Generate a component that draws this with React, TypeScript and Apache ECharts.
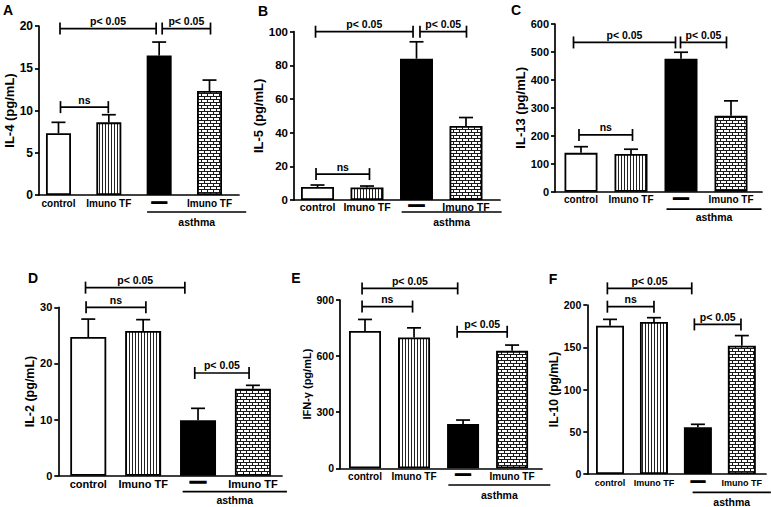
import React, { useEffect, useRef } from 'react';
import * as echarts from 'echarts';

// ---------- data ----------
const categories = ['control', 'Imuno TF', '—', 'Imuno TF'];
const groupLabel = 'asthma';
const panelLetters = ['A', 'B', 'C', 'D', 'E', 'F'];
const yTitles = ['IL-4 (pg/mL)', 'IL-5 (pg/mL)', 'IL-13 (pg/mL)', 'IL-2 (pg/mL)', 'IFN-γ (pg/mL)', 'IL-10 (pg/mL)'];
const yMaxes = [20, 100, 600, 30, 900, 200];
const yIntervals = [5, 20, 100, 10, 300, 50];

const meanIL4 = [7.3, 8.6, 16.5, 12.3];
const semIL4 = [1.3, 0.9, 1.6, 1.3];
const meanIL5 = [7.7, 7.5, 84, 44];
const semIL5 = [1.2, 0.8, 10, 5];
const meanIL13 = [139, 135, 476, 272];
const semIL13 = [22, 17, 23, 53];
const meanIL2 = [24.7, 25.8, 9.9, 15.5];
const semIL2 = [3.2, 2.0, 2.1, 0.6];
const meanIFNg = [734, 700, 237, 628];
const semIFNg = [62, 51, 21, 31];
const meanIL10 = [175.5, 180, 55.3, 151.8];
const semIL10 = [7.5, 5, 3.5, 12];

// significance brackets: [from category pos, to category pos, height (y units), text]
const bracketsIL4: [number, number, number, string][] = [
  [1.03, 2.94, 19.7, 'p< 0.05'], [3.06, 4.02, 19.7, 'p< 0.05'], [1.04, 1.99, 10.4, 'ns'],
];
const bracketsIL5: [number, number, number, string][] = [
  [0.96, 2.93, 100, 'p< 0.05'], [3.07, 4.01, 100, 'p< 0.05'], [0.97, 2.05, 15.4, 'ns'],
];
const bracketsIL13: [number, number, number, string][] = [
  [0.85, 2.89, 534, 'p< 0.05'], [2.99, 3.91, 534, 'p< 0.05'], [0.96, 2.03, 203, 'ns'],
];
const bracketsIL2: [number, number, number, string][] = [
  [0.95, 2.76, 33.5, 'p< 0.05'], [0.96, 2.05, 30.0, 'ns'], [2.94, 3.93, 18.3, 'p< 0.05'],
];
const bracketsIFNg: [number, number, number, string][] = [
  [0.94, 2.89, 962, 'p< 0.05'], [0.94, 1.97, 865, 'ns'], [2.88, 3.9, 730, 'p< 0.05'],
];
const bracketsIL10: [number, number, number, string][] = [
  [0.94, 2.86, 219.7, 'p< 0.05'], [0.94, 2.0, 198, 'ns'], [2.92, 3.98, 177, 'p< 0.05'],
];

// span of the "asthma" group underline, in category positions
const asthmaSpans = [[2.76, 4.73], [2.7, 4.72], [2.71, 4.61], [2.72, 4.62], [2.7, 4.78], [2.88, 4.66]];

const means = [meanIL4, meanIL5, meanIL13, meanIL2, meanIFNg, meanIL10];
const sems = [semIL4, semIL5, semIL13, semIL2, semIFNg, semIL10];
const brackets = [bracketsIL4, bracketsIL5, bracketsIL13, bracketsIL2, bracketsIFNg, bracketsIL10];

// ---------- layout ----------
const layouts = [
  { left: 39, right: 239, top: 26, y0: 195, xMin: 0.613, xMax: 4.586, barW: 25, nameGap: 22, tickF: 12, labF: 10, titleF: 13, labM: 2.5, lineOff: 17, textOff: 27, letter: [8, 10] },
  { left: 294, right: 500, top: 31.7, y0: 200, xMin: 0.525, xMax: 4.687, barW: 33, nameGap: 22.5, tickF: 11.5, labF: 10.5, titleF: 13, labM: 1, lineOff: 12, textOff: 21.7, letter: [263, 11] },
  { left: 555, right: 762, top: 24, y0: 191.7, xMin: 0.48, xMax: 4.62, barW: 33, nameGap: 27, tickF: 11, labF: 10, titleF: 13, labM: 2, lineOff: 17.5, textOff: 25, letter: [516, 10] },
  { left: 58.3, right: 282, top: 307.3, y0: 475.7, xMin: 0.454, xMax: 4.53, barW: 36, nameGap: 20, tickF: 11, labF: 11, titleF: 12.5, labM: 2, lineOff: 16, textOff: 24.5, letter: [33, 278] },
  { left: 340, right: 542, top: 300, y0: 468.3, xMin: 0.49, xMax: 4.61, barW: 32, nameGap: 23, tickF: 10.5, labF: 10, titleF: 11, labM: 2, lineOff: 16.7, textOff: 26.7, letter: [296, 278] },
  { left: 587.3, right: 766, top: 305, y0: 474, xMin: 0.483, xMax: 4.55, barW: 28, nameGap: 21, tickF: 10.5, labF: 9, titleF: 12, labM: 3.5, lineOff: 18.3, textOff: 28.3, letter: [553, 279] },
];

const FONT = "'Liberation Sans', Arial, Helvetica, sans-serif";
const CAP_W = 14;
const LW = 1.7;

function makeStripes(): HTMLCanvasElement {
  const c = document.createElement('canvas');
  c.width = 3; c.height = 4;
  const g = c.getContext('2d')!;
  g.fillStyle = '#fff'; g.fillRect(0, 0, 3, 4);
  g.fillStyle = '#222'; g.fillRect(0, 0, 1, 4);
  return c;
}

function makeBricks(): HTMLCanvasElement {
  const c = document.createElement('canvas');
  c.width = 12; c.height = 6;
  const g = c.getContext('2d')!;
  g.fillStyle = '#fff'; g.fillRect(0, 0, 12, 6);
  g.fillStyle = '#1a1a1a';
  g.fillRect(0, 0, 12, 1);
  g.fillRect(0, 3, 12, 1);
  g.fillRect(0, 1, 1, 2); g.fillRect(6, 1, 1, 2);
  g.fillRect(3, 4, 1, 2); g.fillRect(9, 4, 1, 2);
  return c;
}

export default function App() {
  const ref = useRef<HTMLDivElement>(null);
  useEffect(() => {
    document.body.style.margin = '0';
    if (!ref.current) return;
    const chart = echarts.init(ref.current, undefined, { renderer: 'svg' });
    const stripes = { image: makeStripes(), repeat: 'repeat' };
    const bricks = { image: makeBricks(), repeat: 'repeat' };
    const fills: any[] = ['#ffffff', stripes, '#000000', bricks];

    const grid = layouts.map((l) => ({
      left: l.left, top: l.top, width: l.right - l.left, height: l.y0 - l.top,
      containLabel: false, outerBoundsMode: 'none',
    }));

    const xAxis = layouts.map((l, i) => ({
      type: 'value', gridIndex: i, min: l.xMin, max: l.xMax,
      splitLine: { show: false }, axisTick: { show: false },
      axisLine: { onZero: false, lineStyle: { color: '#000', width: LW } },
      axisLabel: {
        customValues: [1, 2, 3, 4],
        margin: l.labM,
        color: '#000', fontWeight: 'bold', fontSize: l.labF, fontFamily: FONT,
        lineHeight: l.labF + 2,
        formatter: (v: number) => {
          const k = Math.round(v) - 1;
          return k === 2 ? '{d|' + categories[k] + '}' : categories[k];
        },
        rich: {
          d: {
            fontSize: l.labF + 5, fontWeight: 'bold', color: '#000', fontFamily: FONT,
            lineHeight: l.labF + 2, textBorderColor: '#000', textBorderWidth: 1.3,
            padding: [0, 0, 5, 0],
          },
        },
      },
    }));

    const yAxis = layouts.map((l, i) => ({
      type: 'value', gridIndex: i, min: 0, max: yMaxes[i], interval: yIntervals[i],
      splitLine: { show: false },
      axisLine: { show: true, onZero: false, lineStyle: { color: '#000', width: LW } },
      axisTick: { show: true, length: 4, inside: false, lineStyle: { color: '#000', width: LW } },
      axisLabel: { margin: 6, color: '#000', fontWeight: 'bold', fontSize: l.tickF, fontFamily: FONT },
      name: yTitles[i], nameLocation: 'middle', nameGap: l.nameGap, nameRotate: 90,
      nameTextStyle: { color: '#000', fontWeight: 'bold', fontSize: l.titleF, fontFamily: FONT },
    }));

    const series: any[] = [];
    layouts.forEach((l, p) => {
      series.push({
        type: 'bar', xAxisIndex: p, yAxisIndex: p, barWidth: l.barW, z: 2,
        data: means[p].map((v, k) => ({
          value: [k + 1, v],
          itemStyle: { color: fills[k], borderColor: '#000', borderWidth: 1.8 },
        })),
      });
      series.push({
        type: 'custom', xAxisIndex: p, yAxisIndex: p, z: 3,
        encode: { x: 0, y: [1, 2] },
        data: means[p].map((v, k) => [k + 1, v, v + sems[p][k]]),
        renderItem: (params: any, api: any) => {
          const a = api.coord([api.value(0), api.value(1)]);
          const b = api.coord([api.value(0), api.value(2)]);
          const st = { stroke: '#000', lineWidth: LW };
          return {
            type: 'group', children: [
              { type: 'line', shape: { x1: a[0], y1: a[1], x2: b[0], y2: b[1] }, style: st },
              { type: 'line', shape: { x1: b[0] - CAP_W / 2, y1: b[1], x2: b[0] + CAP_W / 2, y2: b[1] }, style: st },
            ],
          };
        },
      });
      series.push({
        type: 'custom', xAxisIndex: p, yAxisIndex: p, z: 3, clip: false,
        encode: { x: [0, 1], y: 2 },
        data: brackets[p].map((b) => [b[0], b[1], b[2]]),
        renderItem: (params: any, api: any) => {
          const br = brackets[p][params.dataIndex];
          const a = api.coord([br[0], br[2]]);
          const b = api.coord([br[1], br[2]]);
          const st = { stroke: '#000', lineWidth: LW };
          const h = 6;
          return {
            type: 'group', children: [
              { type: 'line', shape: { x1: a[0], y1: a[1], x2: b[0], y2: b[1] }, style: st },
              { type: 'line', shape: { x1: a[0], y1: a[1] - h, x2: a[0], y2: a[1] + h }, style: st },
              { type: 'line', shape: { x1: b[0], y1: b[1] - h, x2: b[0], y2: b[1] + h }, style: st },
              {
                type: 'text', x: (a[0] + b[0]) / 2, y: a[1] - 2,
                style: {
                  text: br[3], fill: '#000', fontSize: 10.5, fontWeight: 'bold', fontFamily: FONT,
                  align: 'center', verticalAlign: 'bottom', textAlign: 'center', textVerticalAlign: 'bottom',
                },
              },
            ],
          };
        },
      });
      series.push({
        type: 'custom', xAxisIndex: p, yAxisIndex: p, z: 3, clip: false,
        encode: { x: [0, 1], y: 2 },
        data: [[asthmaSpans[p][0], asthmaSpans[p][1], 0]],
        renderItem: (params: any, api: any) => {
          const a = api.coord([api.value(0), 0]);
          const b = api.coord([api.value(1), 0]);
          return {
            type: 'group', children: [
              { type: 'line', shape: { x1: a[0], y1: a[1] + l.lineOff, x2: b[0], y2: b[1] + l.lineOff }, style: { stroke: '#000', lineWidth: LW } },
              {
                type: 'text', x: (a[0] + b[0]) / 2, y: a[1] + l.textOff,
                style: {
                  text: groupLabel, fill: '#000', fontSize: 10.5, fontWeight: 'bold', fontFamily: FONT,
                  align: 'center', verticalAlign: 'middle', textAlign: 'center', textVerticalAlign: 'middle',
                },
              },
            ],
          };
        },
      });
    });

    const graphic = layouts.map((l, p) => ({
      type: 'text', x: l.letter[0], y: l.letter[1],
      style: {
        text: panelLetters[p], fill: '#000', fontSize: 14, fontWeight: 'bold', fontFamily: FONT,
        align: 'center', verticalAlign: 'middle', textAlign: 'center', textVerticalAlign: 'middle',
      },
    }));

    chart.setOption({
      animation: false,
      backgroundColor: '#ffffff',
      grid, xAxis, yAxis, series, graphic,
    } as any);
    return () => chart.dispose();
  }, []);
  return <div ref={ref} style={{ width: 771, height: 507, position: 'absolute', left: 0, top: 0 }} />;
}
